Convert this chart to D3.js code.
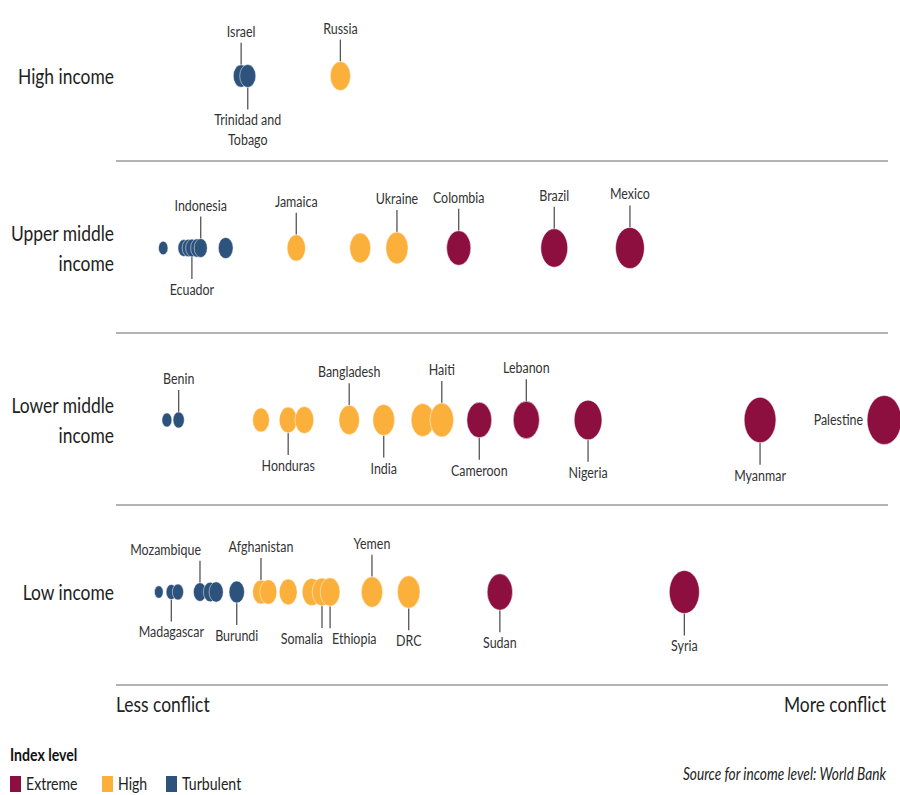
<!DOCTYPE html>
<meta charset="utf-8">
<style>
body { margin: 0; background: #fff; }
text { font-family: Lato, "Open Sans", sans-serif; fill: #333; }
.sep { stroke: #b3b3b3; stroke-width: 2; }
.stem { stroke: #555; stroke-width: 1.3; }
</style>
<svg width="900" height="795"></svg>
<script src="https://cdn.jsdelivr.net/npm/d3@7"></script>
<script>

var rows = ["High income", "Upper middle income", "Lower middle income", "Low income"];
var rowLabelLines = [["High income"], ["Upper middle", "income"], ["Lower middle", "income"], ["Low income"]];
var levels = ["Extreme", "High", "Turbulent"];
var levelColors = ["#8c0f3f", "#fbb03b", "#2d527c"];

// [country, conflict score, index level]   "" = dot without a label
var highIncome = [
  ["Israel", 12.4, "Turbulent"],
  ["Trinidad and Tobago", 13.3, "Turbulent"],
  ["Russia", 25.9, "High"]
];
var upperMiddle = [
  ["", 1.8, "Turbulent"],
  ["", 4.6, "Turbulent"],
  ["", 5.2, "Turbulent"],
  ["Ecuador", 5.7, "Turbulent"],
  ["", 6.4, "Turbulent"],
  ["Indonesia", 6.9, "Turbulent"],
  ["", 10.3, "Turbulent"],
  ["Jamaica", 19.9, "High"],
  ["", 28.6, "High"],
  ["Ukraine", 33.6, "High"],
  ["Colombia", 42.0, "Extreme"],
  ["Brazil", 55.0, "Extreme"],
  ["Mexico", 65.3, "Extreme"]
];
var lowerMiddle = [
  ["", 2.3, "Turbulent"],
  ["Benin", 3.9, "Turbulent"],
  ["", 15.1, "High"],
  ["Honduras", 18.8, "High"],
  ["", 21.0, "High"],
  ["Bangladesh", 27.1, "High"],
  ["India", 31.8, "High"],
  ["", 37.1, "High"],
  ["Haiti", 39.7, "High"],
  ["Cameroon", 44.8, "Extreme"],
  ["Lebanon", 51.2, "Extreme"],
  ["Nigeria", 59.6, "Extreme"],
  ["Myanmar", 83.0, "Extreme"],
  ["Palestine", 99.9, "Extreme"]
];
var lowIncome = [
  ["", 1.2, "Turbulent"],
  ["Madagascar", 2.9, "Turbulent"],
  ["", 3.8, "Turbulent"],
  ["Mozambique", 6.8, "Turbulent"],
  ["", 8.2, "Turbulent"],
  ["", 9.0, "Turbulent"],
  ["Burundi", 11.8, "Turbulent"],
  ["Afghanistan", 15.1, "High"],
  ["", 16.1, "High"],
  ["", 18.8, "High"],
  ["", 22.0, "High"],
  ["Somalia", 23.4, "High"],
  ["Ethiopia", 24.5, "High"],
  ["Yemen", 30.2, "High"],
  ["DRC", 35.2, "High"],
  ["Sudan", 47.6, "Extreme"],
  ["Syria", 72.7, "Extreme"]
];
var rowData = [highIncome, upperMiddle, lowerMiddle, lowIncome];

// label placement
var labelBelow = ["Trinidad and Tobago", "Ecuador", "Honduras", "India", "Cameroon", "Nigeria", "Myanmar",
                  "Madagascar", "Burundi", "Somalia", "Ethiopia", "DRC", "Sudan", "Syria"];
var labelEnd = ["Mozambique", "Somalia"];
var labelStart = ["Ethiopia"];
var labelLeft = ["Palestine"];
var labelWrap = {"Trinidad and Tobago": ["Trinidad and", "Tobago"]};

var svg = d3.select("svg");
var K = 0.83; // horizontal squeeze of the type

var x = d3.scaleLinear().domain([0, 100]).range([150, 885]);
var r = d3.scaleSqrt().domain([0, 100]).range([4, 24.5]);
var y = d3.scalePoint().domain(rows).range([76, 592]);
var color = d3.scaleOrdinal().domain(levels).range(levelColors);

function squeeze(px, py) { return "translate(" + px + "," + py + ") scale(" + K + ",1)"; }

// separators
svg.append("g").selectAll("line")
  .data(rows.slice(0, 3))
  .enter().append("line")
    .attr("class", "sep")
    .attr("x1", 116).attr("x2", 888)
    .attr("y1", function(d) { return y(d) + 85; })
    .attr("y2", function(d) { return y(d) + 85; });
svg.append("line").attr("class", "sep")
    .attr("x1", 116).attr("x2", 888).attr("y1", 685).attr("y2", 685);

// row labels
rows.forEach(function(row, i) {
  var lines = rowLabelLines[i];
  var t = svg.append("text")
      .attr("transform", squeeze(114, y(row) + 8 - (lines.length - 1) * 15))
      .attr("text-anchor", "end")
      .style("font-size", "21px")
      .style("fill", "#222");
  lines.forEach(function(l, j) {
    t.append("tspan").attr("x", 0).attr("dy", j ? 30 : 0).text(l);
  });
});

var dots = [];
rows.forEach(function(row, i) {
  rowData[i].forEach(function(d) {
    dots.push({row: row, name: d[0], score: d[1], level: d[2]});
  });
});

// stems and labels
var named = dots.filter(function(d) { return d.name; });
named.forEach(function(d) {
  var cx = x(d.score), cy = y(d.row), rr = r(d.score);
  var g = svg.append("g");
  if (labelLeft.indexOf(d.name) >= 0) {
    g.append("text")
        .attr("transform", squeeze(cx - rr * 0.7 - 4, cy + 5))
        .attr("text-anchor", "end")
        .style("font-size", "15px")
        .text(d.name);
    return;
  }
  var below = labelBelow.indexOf(d.name) >= 0;
  var edge = below ? cy + rr : cy - rr;
  var tip = below ? edge + 22 : edge - 22;
  g.append("line").attr("class", "stem")
      .attr("x1", cx).attr("x2", cx).attr("y1", edge).attr("y2", tip);
  var anchor = "middle", tx = cx;
  if (labelEnd.indexOf(d.name) >= 0) { anchor = "end"; tx = cx + 1; }
  if (labelStart.indexOf(d.name) >= 0) { anchor = "start"; tx = cx + 2; }
  var lines = labelWrap[d.name] || [d.name];
  var t = g.append("text")
      .attr("transform", squeeze(tx, below ? tip + 16 : tip - 6))
      .attr("text-anchor", anchor)
      .style("font-size", "15px");
  lines.forEach(function(l, j) {
    t.append("tspan").attr("x", 0).attr("dy", j ? 20 : 0).text(l);
  });
});

// dots
svg.append("g").selectAll("ellipse")
  .data(dots)
  .enter().append("ellipse")
    .attr("cx", function(d) { return x(d.score); })
    .attr("cy", function(d) { return y(d.row); })
    .attr("rx", function(d) { return r(d.score) * 0.7; })
    .attr("ry", function(d) { return r(d.score); })
    .style("fill", function(d) { return color(d.level); })
    .style("stroke", "#fff")
    .style("stroke-opacity", 0.6)
    .style("stroke-width", 0.8);

// axis ends
svg.append("text").attr("transform", squeeze(116, 712))
    .style("font-size", "21px").style("fill", "#222").text("Less conflict");
svg.append("text").attr("transform", squeeze(886, 712)).attr("text-anchor", "end")
    .style("font-size", "21px").style("fill", "#222").text("More conflict");

// legend
svg.append("text").attr("transform", squeeze(10, 761))
    .style("font-size", "17px").style("font-weight", "bold").style("fill", "#111").text("Index level");
var legendX = [10, 102, 166];
var item = svg.append("g").selectAll("g")
  .data(levels)
  .enter().append("g")
    .attr("transform", function(d, i) { return "translate(" + legendX[i] + ",776)"; });
item.append("rect").attr("width", 11).attr("height", 16)
    .style("fill", function(d) { return color(d); });
item.append("text").attr("transform", squeeze(16, 14))
    .style("font-size", "17px").style("fill", "#222").text(function(d) { return d; });

svg.append("text").attr("transform", squeeze(886, 780)).attr("text-anchor", "end")
    .style("font-size", "16.5px").style("font-style", "italic").style("fill", "#222")
    .text("Source for income level: World Bank");

</script>
